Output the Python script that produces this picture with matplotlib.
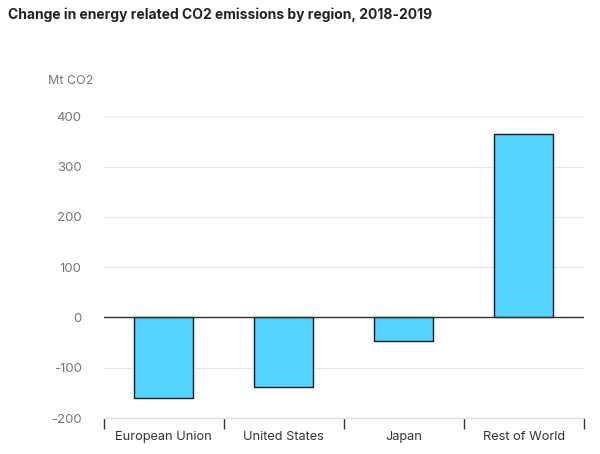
import numpy as np
import matplotlib
matplotlib.use("Agg")
import matplotlib.pyplot as plt
from matplotlib.ticker import FixedLocator

plt.rcParams["font.family"] = ["Inter", "DejaVu Sans"]

# ── data ──
regions = ["European Union", "United States", "Japan", "Rest of World"]
change = [-159, -139, -46, 365]
yticks = [-200, -100, 0, 100, 200, 300, 400]

fig = plt.figure(figsize=(6.0, 4.54), dpi=100, facecolor="white")
ax = fig.add_axes([0.173, 0.079, 0.80, 0.665])

x = np.arange(len(regions))
ax.bar(x, change, width=0.49, color="#55D4FF", edgecolor="#1a1a1a",
       linewidth=1.0, zorder=3)

ax.set_xlim(-0.5, len(regions) - 0.5)
ax.set_ylim(-200, 400)
ax.set_yticks(yticks)
ax.set_yticklabels([str(v) for v in yticks], color="#777777", fontsize=9.5)
ax.tick_params(axis="y", length=0, pad=16)

ax.grid(axis="y", color="#e6e6e6", linewidth=0.9, zorder=0)
ax.axhline(0, color="#333333", linewidth=1.0, zorder=4)

for s in ["top", "right", "left"]:
    ax.spines[s].set_visible(False)
ax.spines["bottom"].set_color("#dddddd")
ax.spines["bottom"].set_linewidth(0.9)

# category labels centred, ticks on boundaries
ax.set_xticks(x)
ax.set_xticklabels(regions, color="#333333", fontsize=9.2)
ax.tick_params(axis="x", which="major", length=0, pad=9)
ax.xaxis.set_minor_locator(FixedLocator(np.arange(-0.5, len(regions), 1.0)))
ax.tick_params(axis="x", which="minor", length=8, width=1.0, color="#333333",
               direction="out")

fig.text(0.08, 0.822, "Mt CO2", fontsize=9, color="#777777", ha="left", va="center")
fig.text(0.013, 0.967, "Change in energy related CO2 emissions by region, 2018-2019",
         fontsize=10, fontweight="bold", color="#222222", ha="left", va="center")

fig.savefig("out.png", dpi=100, facecolor="white")
